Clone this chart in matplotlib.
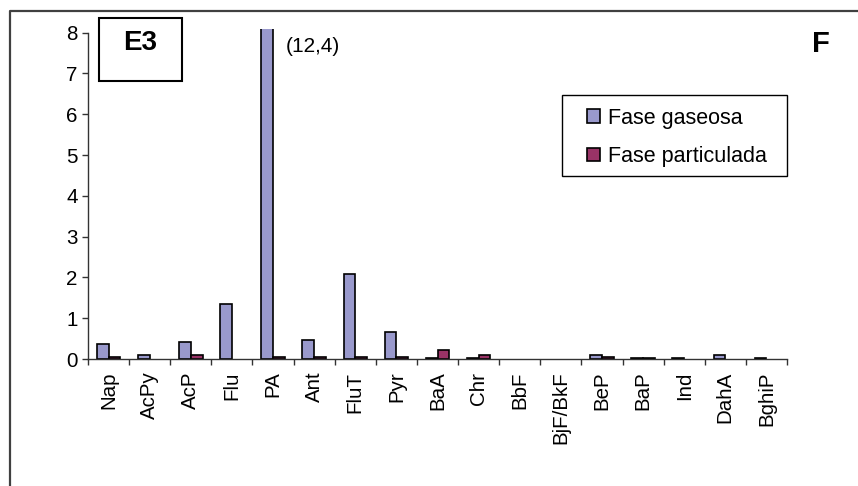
import matplotlib.pyplot as plt
from matplotlib.lines import Line2D
from matplotlib.patches import Rectangle
import numpy as np

plt.rcParams["font.family"] = ["Liberation Sans", "DejaVu Sans"]

# ------------------------------------------------------------------
# Data
# ------------------------------------------------------------------
compounds = ["Nap", "AcPy", "AcP", "Flu", "PA", "Ant", "FluT", "Pyr", "BaA",
             "Chr", "BbF", "BjF/BkF", "BeP", "BaP", "Ind", "DahA", "BghiP"]
gas_phase = [0.36, 0.11, 0.41, 1.36, 12.4, 0.46, 2.09, 0.67, 0.03,
             0.03, 0.0, 0.0, 0.10, 0.03, 0.03, 0.10, 0.03]
particle_phase = [0.04, 0.0, 0.11, 0.0, 0.04, 0.04, 0.04, 0.04, 0.22,
                  0.11, 0.0, 0.0, 0.04, 0.03, 0.0, 0.0, 0.0]
y_ticks = [0, 1, 2, 3, 4, 5, 6, 7, 8]

GAS_COLOR = "#9999CC"
PART_COLOR = "#993366"

# ------------------------------------------------------------------
# Figure
# ------------------------------------------------------------------
fig = plt.figure(figsize=(8.58, 4.86), dpi=100)
ax = fig.add_axes([88 / 858, 1 - 359 / 486, (787 - 88) / 858, (359 - 28.6) / 486])

x = np.arange(len(compounds))
w = 0.285


def draw_series(offset, values, color, label):
    vals = np.asarray(values)
    keep = vals > 0  # Excel draws nothing for zero values
    ax.bar(x[keep] + offset, vals[keep], w, color=color, edgecolor="black",
           linewidth=1.2, label=label)


draw_series(-w / 2, gas_phase, GAS_COLOR, "Fase gaseosa")
draw_series(w / 2, particle_phase, PART_COLOR, "Fase particulada")

ax.set_xlim(-0.5, len(compounds) - 0.5)
ax.set_ylim(0, 8.1)
ax.set_yticks(y_ticks)
ax.spines["left"].set_bounds(0, 8)
for s in ("top", "right"):
    ax.spines[s].set_visible(False)
for s in ("left", "bottom"):
    ax.spines[s].set_color("#333333")
    ax.spines[s].set_linewidth(1.0)

# category boundaries as major ticks, labels on minor ticks
ax.set_xticks(np.arange(len(compounds) + 1) - 0.5)
ax.set_xticklabels([])
ax.set_xticks(x, minor=True)
ax.set_xticklabels(compounds, minor=True, rotation=90, fontsize=14.8, va="top")
ax.tick_params(axis="x", which="major", direction="out", length=4.5, width=1, color="#333333")
ax.tick_params(axis="x", which="minor", length=0, pad=9)
ax.tick_params(axis="y", direction="out", length=4.5, width=1, color="#333333",
               labelsize=14.8, pad=3)

# annotation for the clipped bar
ax.text(4.3, 7.65, "(12,4)", fontsize=15, va="center", ha="left")

# legend (frame drawn separately to match the wide inner padding)
leg = fig.legend(loc="upper left", bbox_to_anchor=(576 / 858, 1 - 97 / 486),
                 fontsize=15.5, frameon=False, borderpad=0,
                 handlelength=0.6, handleheight=0.6, handletextpad=0.4,
                 labelspacing=0.8)
for h in leg.legend_handles:
    h.set_linewidth(1.2)
fig.patches.append(Rectangle((562 / 858, 1 - 176 / 486), 225 / 858, 81 / 486,
                             transform=fig.transFigure, fill=False,
                             edgecolor="black", linewidth=1.0))

# "E3" box
fig.patches.append(Rectangle((99 / 858, 1 - 81 / 486), 83 / 858, 63 / 486,
                             transform=fig.transFigure, fill=False,
                             edgecolor="black", linewidth=1.5))
fig.text(140.5 / 858, 1 - 43 / 486, "E3", fontsize=20, fontweight="bold",
         ha="center", va="center")

# panel letter
fig.text(821 / 858, 1 - 44 / 486, "F", fontsize=21, fontweight="bold",
         ha="center", va="center")

# outer frame (left and top edges only are visible)
fig.lines.append(Line2D([9.5 / 858, 9.5 / 858, 1.0], [0.0, 1 - 11 / 486, 1 - 11 / 486],
                        transform=fig.transFigure, color="#404040", linewidth=1.6))

fig.savefig("out.png", dpi=100)
